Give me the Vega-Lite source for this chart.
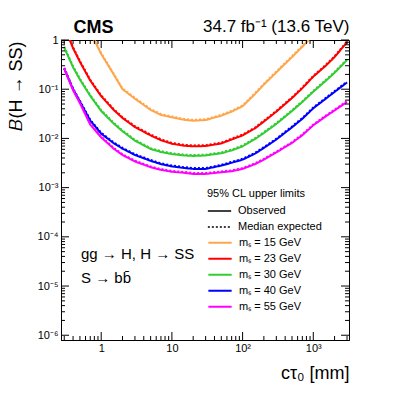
{
  "$schema": "https://vega.github.io/schema/vega-lite/v6.json",
  "width": 288,
  "height": 300,
  "autosize": {"type": "none"},
  "padding": {"left": 61, "top": 40, "right": 58, "bottom": 56},
  "config": {
    "font": "Liberation Sans",
    "view": {"stroke": "black", "strokeWidth": 1},
    "axis": {"grid": false, "domainColor": "black", "tickColor": "black", "tickWidth": 1, "labelColor": "black", "titleColor": "black", "titleFontWeight": "normal", "labelFont": "Liberation Sans", "titleFont": "Liberation Sans"},
    "legend": {"labelFont": "Liberation Sans", "titleFont": "Liberation Sans", "labelColor": "black", "titleColor": "black"}
  },
  "datasets": {
    "xt": [{"v":0.3},{"v":0.4},{"v":0.5},{"v":0.6},{"v":0.7},{"v":0.8},{"v":0.9},{"v":1},{"v":2},{"v":3},{"v":4},{"v":5},{"v":6},{"v":7},{"v":8},{"v":9},{"v":10},{"v":20},{"v":30},{"v":40},{"v":50},{"v":60},{"v":70},{"v":80},{"v":90},{"v":100},{"v":200},{"v":300},{"v":400},{"v":500},{"v":600},{"v":700},{"v":800},{"v":900},{"v":1000},{"v":2000},{"v":3000}],
    "yt": [{"v":1e-6},{"v":2e-6},{"v":3e-6},{"v":4e-6},{"v":5e-6},{"v":6e-6},{"v":7e-6},{"v":8e-6},{"v":9e-6},{"v":1e-5},{"v":2e-5},{"v":3e-5},{"v":4e-5},{"v":5e-5},{"v":6e-5},{"v":7e-5},{"v":8e-5},{"v":9e-5},{"v":1e-4},{"v":2e-4},{"v":3e-4},{"v":4e-4},{"v":5e-4},{"v":6e-4},{"v":7e-4},{"v":8e-4},{"v":9e-4},{"v":0.001},{"v":0.002},{"v":0.003},{"v":0.004},{"v":0.005},{"v":0.006},{"v":0.007},{"v":0.008},{"v":0.009},{"v":0.01},{"v":0.02},{"v":0.03},{"v":0.04},{"v":0.05},{"v":0.06},{"v":0.07},{"v":0.08},{"v":0.09},{"v":0.1},{"v":0.2},{"v":0.3},{"v":0.4},{"v":0.5},{"v":0.6},{"v":0.7},{"v":0.8},{"v":0.9},{"v":1}],
    "curves": [
    {"m":"15","c":0.5,"o":3.5,"e":3.6},{"m":"15","c":0.7,"o":1.45,"e":1.5},{"m":"15","c":1,"o":0.52,"e":0.54},{"m":"15","c":1.5,"o":0.2,"e":0.208},{"m":"15","c":2,"o":0.1,"e":0.104},{"m":"15","c":3,"o":0.064,"e":0.0666},{"m":"15","c":5,"o":0.038,"e":0.0395},{"m":"15","c":7,"o":0.030,"e":0.0312},{"m":"15","c":10,"o":0.0268,"e":0.0279},{"m":"15","c":15,"o":0.0238,"e":0.0248},{"m":"15","c":20,"o":0.0229,"e":0.0238},{"m":"15","c":30,"o":0.0236,"e":0.0245},{"m":"15","c":50,"o":0.029,"e":0.0302},{"m":"15","c":70,"o":0.035,"e":0.0364},{"m":"15","c":100,"o":0.045,"e":0.0468},{"m":"15","c":150,"o":0.08,"e":0.0832},{"m":"15","c":200,"o":0.124,"e":0.129},{"m":"15","c":300,"o":0.22,"e":0.229},{"m":"15","c":500,"o":0.45,"e":0.468},{"m":"15","c":700,"o":0.73,"e":0.76},{"m":"15","c":1000,"o":1.25,"e":1.3},{"m":"15","c":1500,"o":2.3,"e":2.4},
    {"m":"23","c":0.3,"o":1.9,"e":1.98},{"m":"23","c":0.4,"o":0.68,"e":0.71},{"m":"23","c":0.5,"o":0.36,"e":0.375},{"m":"23","c":0.7,"o":0.15,"e":0.156},{"m":"23","c":1,"o":0.072,"e":0.075},{"m":"23","c":1.5,"o":0.038,"e":0.0395},{"m":"23","c":2,"o":0.026,"e":0.027},{"m":"23","c":3,"o":0.017,"e":0.0177},{"m":"23","c":5,"o":0.0115,"e":0.012},{"m":"23","c":7,"o":0.0092,"e":0.0096},{"m":"23","c":10,"o":0.0078,"e":0.0081},{"m":"23","c":15,"o":0.0071,"e":0.0074},{"m":"23","c":20,"o":0.0069,"e":0.0072},{"m":"23","c":30,"o":0.0070,"e":0.0073},{"m":"23","c":50,"o":0.0079,"e":0.0082},{"m":"23","c":70,"o":0.0095,"e":0.0099},{"m":"23","c":100,"o":0.0115,"e":0.012},{"m":"23","c":150,"o":0.016,"e":0.0166},{"m":"23","c":200,"o":0.022,"e":0.0229},{"m":"23","c":300,"o":0.035,"e":0.0364},{"m":"23","c":500,"o":0.066,"e":0.0686},{"m":"23","c":700,"o":0.105,"e":0.109},{"m":"23","c":1000,"o":0.18,"e":0.187},{"m":"23","c":1500,"o":0.30,"e":0.312},{"m":"23","c":2000,"o":0.45,"e":0.468},{"m":"23","c":3000,"o":0.9,"e":0.936},
    {"m":"30","c":0.3,"o":0.70,"e":0.728},{"m":"30","c":0.4,"o":0.28,"e":0.291},{"m":"30","c":0.5,"o":0.157,"e":0.163},{"m":"30","c":0.7,"o":0.073,"e":0.076},{"m":"30","c":1,"o":0.036,"e":0.0374},{"m":"30","c":1.5,"o":0.020,"e":0.0208},{"m":"30","c":2,"o":0.014,"e":0.01456},{"m":"30","c":3,"o":0.009,"e":0.00936},{"m":"30","c":5,"o":0.0061,"e":0.00634},{"m":"30","c":7,"o":0.0053,"e":0.00551},{"m":"30","c":10,"o":0.0048,"e":0.00499},{"m":"30","c":15,"o":0.0045,"e":0.00468},{"m":"30","c":20,"o":0.0044,"e":0.00458},{"m":"30","c":30,"o":0.0045,"e":0.00468},{"m":"30","c":50,"o":0.0050,"e":0.0052},{"m":"30","c":70,"o":0.0057,"e":0.00593},{"m":"30","c":100,"o":0.0069,"e":0.00718},{"m":"30","c":150,"o":0.0097,"e":0.0101},{"m":"30","c":200,"o":0.0129,"e":0.0134},{"m":"30","c":300,"o":0.0197,"e":0.0205},{"m":"30","c":500,"o":0.036,"e":0.0374},{"m":"30","c":700,"o":0.055,"e":0.0572},{"m":"30","c":1000,"o":0.089,"e":0.0926},{"m":"30","c":1500,"o":0.148,"e":0.154},{"m":"30","c":2000,"o":0.215,"e":0.224},{"m":"30","c":3000,"o":0.39,"e":0.406},
    {"m":"40","c":0.3,"o":0.26,"e":0.27},{"m":"40","c":0.4,"o":0.10,"e":0.104},{"m":"40","c":0.5,"o":0.056,"e":0.0582},{"m":"40","c":0.7,"o":0.023,"e":0.0239},{"m":"40","c":1,"o":0.0125,"e":0.013},{"m":"40","c":1.5,"o":0.0080,"e":0.00832},{"m":"40","c":2,"o":0.0062,"e":0.00645},{"m":"40","c":3,"o":0.0046,"e":0.00478},{"m":"40","c":5,"o":0.0035,"e":0.00364},{"m":"40","c":7,"o":0.0030,"e":0.00312},{"m":"40","c":10,"o":0.0027,"e":0.00281},{"m":"40","c":15,"o":0.0025,"e":0.0026},{"m":"40","c":20,"o":0.0024,"e":0.0025},{"m":"40","c":30,"o":0.0024,"e":0.0025},{"m":"40","c":50,"o":0.0028,"e":0.00291},{"m":"40","c":70,"o":0.0032,"e":0.00333},{"m":"40","c":100,"o":0.0037,"e":0.00385},{"m":"40","c":150,"o":0.0049,"e":0.0051},{"m":"40","c":200,"o":0.0064,"e":0.00666},{"m":"40","c":300,"o":0.0095,"e":0.00988},{"m":"40","c":500,"o":0.0168,"e":0.0175},{"m":"40","c":700,"o":0.025,"e":0.026},{"m":"40","c":1000,"o":0.041,"e":0.0426},{"m":"40","c":1500,"o":0.064,"e":0.0666},{"m":"40","c":2000,"o":0.088,"e":0.0915},{"m":"40","c":3000,"o":0.137,"e":0.1425},
    {"m":"55","c":0.3,"o":0.26,"e":0.27},{"m":"55","c":0.4,"o":0.095,"e":0.099},{"m":"55","c":0.5,"o":0.052,"e":0.054},{"m":"55","c":0.7,"o":0.019,"e":0.0198},{"m":"55","c":1,"o":0.0105,"e":0.0109},{"m":"55","c":1.5,"o":0.0062,"e":0.00645},{"m":"55","c":2,"o":0.0046,"e":0.00478},{"m":"55","c":3,"o":0.0034,"e":0.00354},{"m":"55","c":5,"o":0.0026,"e":0.0027},{"m":"55","c":7,"o":0.0023,"e":0.00239},{"m":"55","c":10,"o":0.0021,"e":0.00218},{"m":"55","c":15,"o":0.0020,"e":0.00208},{"m":"55","c":20,"o":0.0019,"e":0.00198},{"m":"55","c":30,"o":0.0019,"e":0.00198},{"m":"55","c":50,"o":0.00205,"e":0.00213},{"m":"55","c":70,"o":0.00215,"e":0.00224},{"m":"55","c":100,"o":0.0024,"e":0.0025},{"m":"55","c":150,"o":0.0030,"e":0.00312},{"m":"55","c":200,"o":0.0037,"e":0.00385},{"m":"55","c":300,"o":0.0052,"e":0.0054},{"m":"55","c":500,"o":0.0081,"e":0.0084},{"m":"55","c":700,"o":0.0116,"e":0.0121},{"m":"55","c":1000,"o":0.0185,"e":0.0192},{"m":"55","c":1500,"o":0.028,"e":0.0291},{"m":"55","c":2000,"o":0.037,"e":0.0385},{"m":"55","c":3000,"o":0.055,"e":0.0572}
  ]},
  "data": {"name": "curves"},
  "resolve": {"axis": {"x": "independent", "y": "independent"}},
  "layer": [
    {
      "transform": [{"fold": ["o", "e"], "as": ["k", "B"]}],
      "mark": {"type": "line", "strokeWidth": 2, "clip": true},
      "encoding": {
        "x": {"field": "c", "type": "quantitative",
          "scale": {"type": "log", "domain": [0.27, 3200], "nice": false},
          "axis": {"orient": "bottom", "values": [1, 10, 100, 1000], "ticks": false, "labelPadding": 2, "labelFontSize": 11, "labelFlush": false,
            "labelExpr": "datum.value == 1 ? '1' : datum.value == 10 ? '10' : datum.value == 100 ? '10²' : '10³'",
            "title": "cτ₀ [mm]", "titleFontSize": 18, "titleX": 288, "titleY": 38, "titleAlign": "right", "titleBaseline": "alphabetic"}},
        "y": {"field": "B", "type": "quantitative",
          "scale": {"type": "log", "domain": [8e-7, 1], "nice": false},
          "axis": {"orient": "left", "values": [1e-6, 1e-5, 1e-4, 0.001, 0.01, 0.1, 1], "ticks": false, "labelPadding": 3, "labelFontSize": 11, "labelFlush": false,
            "labelExpr": "datum.value > 0.5 ? '1' : '10' + ['', '⁻¹', '⁻²', '⁻³', '⁻⁴', '⁻⁵', '⁻⁶'][round(-log(datum.value) / LN10)]",
            "title": "𝐵(H → SS)", "titleFontSize": 18, "titleX": -39.5, "titleY": 1, "titleAlign": "right", "titleAngle": 270, "titleBaseline": "alphabetic"}},
        "color": {"field": "m", "type": "nominal",
          "scale": {"domain": ["15", "23", "30", "40", "55"], "range": ["#ffa64d", "#ff0000", "#33cc33", "#0000ff", "#ff00ff"]},
          "legend": {"title": null, "orient": "none", "legendX": 146, "legendY": 194.7, "symbolType": "stroke", "symbolSize": 543, "symbolStrokeWidth": 2, "clipHeight": 16, "rowPadding": 0, "labelOffset": 6, "labelFontSize": 11, "padding": 0,
            "labelExpr": "'mₛ = ' + datum.label + ' GeV'"}},
        "strokeDash": {"field": "k", "type": "nominal",
          "scale": {"domain": ["o", "e"], "range": [[1, 0], [2, 2]]},
          "legend": {"title": "95% CL upper limits", "orient": "none", "legendX": 146, "legendY": 148, "symbolType": "stroke", "symbolSize": 543, "symbolStrokeWidth": 1.5, "symbolStrokeColor": "black", "clipHeight": 16, "rowPadding": 0, "labelOffset": 6, "labelFontSize": 11, "titleFontSize": 11, "titleFontWeight": "normal", "titlePadding": 4, "padding": 0,
            "labelExpr": "datum.label == 'o' ? 'Observed' : 'Median expected'"}}
      }
    },
    {
      "data": {"name": "xt"},
      "transform": [{"filter": "abs(log(datum.v)/LN10 - round(log(datum.v)/LN10)) < 0.01"}],
      "mark": {"type": "tick", "orient": "vertical", "size": 8, "thickness": 1, "color": "black", "opacity": 1, "yOffset": -4},
      "encoding": {"x": {"field": "v", "type": "quantitative", "axis": null}, "y": {"datum": 8e-7, "type": "quantitative", "axis": null}}
    },
    {
      "data": {"name": "xt"},
      "transform": [{"filter": "abs(log(datum.v)/LN10 - round(log(datum.v)/LN10)) >= 0.01"}],
      "mark": {"type": "tick", "orient": "vertical", "size": 4, "thickness": 1, "color": "black", "opacity": 1, "yOffset": -2},
      "encoding": {"x": {"field": "v", "type": "quantitative", "axis": null}, "y": {"datum": 8e-7, "type": "quantitative", "axis": null}}
    },
    {
      "data": {"name": "xt"},
      "transform": [{"filter": "abs(log(datum.v)/LN10 - round(log(datum.v)/LN10)) < 0.01"}],
      "mark": {"type": "tick", "orient": "vertical", "size": 8, "thickness": 1, "color": "black", "opacity": 1, "yOffset": 4},
      "encoding": {"x": {"field": "v", "type": "quantitative", "axis": null}, "y": {"datum": 1, "type": "quantitative", "axis": null}}
    },
    {
      "data": {"name": "xt"},
      "transform": [{"filter": "abs(log(datum.v)/LN10 - round(log(datum.v)/LN10)) >= 0.01"}],
      "mark": {"type": "tick", "orient": "vertical", "size": 4, "thickness": 1, "color": "black", "opacity": 1, "yOffset": 2},
      "encoding": {"x": {"field": "v", "type": "quantitative", "axis": null}, "y": {"datum": 1, "type": "quantitative", "axis": null}}
    },
    {
      "data": {"name": "yt"},
      "transform": [{"filter": "abs(log(datum.v)/LN10 - round(log(datum.v)/LN10)) < 0.01"}],
      "mark": {"type": "tick", "orient": "horizontal", "size": 8, "thickness": 1, "color": "black", "opacity": 1, "xOffset": 4},
      "encoding": {"y": {"field": "v", "type": "quantitative", "axis": null}, "x": {"datum": 0.27, "type": "quantitative", "axis": null}}
    },
    {
      "data": {"name": "yt"},
      "transform": [{"filter": "abs(log(datum.v)/LN10 - round(log(datum.v)/LN10)) >= 0.01"}],
      "mark": {"type": "tick", "orient": "horizontal", "size": 4, "thickness": 1, "color": "black", "opacity": 1, "xOffset": 2},
      "encoding": {"y": {"field": "v", "type": "quantitative", "axis": null}, "x": {"datum": 0.27, "type": "quantitative", "axis": null}}
    },
    {
      "data": {"name": "yt"},
      "transform": [{"filter": "abs(log(datum.v)/LN10 - round(log(datum.v)/LN10)) < 0.01"}],
      "mark": {"type": "tick", "orient": "horizontal", "size": 8, "thickness": 1, "color": "black", "opacity": 1, "xOffset": -4},
      "encoding": {"y": {"field": "v", "type": "quantitative", "axis": null}, "x": {"datum": 3200, "type": "quantitative", "axis": null}}
    },
    {
      "data": {"name": "yt"},
      "transform": [{"filter": "abs(log(datum.v)/LN10 - round(log(datum.v)/LN10)) >= 0.01"}],
      "mark": {"type": "tick", "orient": "horizontal", "size": 4, "thickness": 1, "color": "black", "opacity": 1, "xOffset": -2},
      "encoding": {"y": {"field": "v", "type": "quantitative", "axis": null}, "x": {"datum": 3200, "type": "quantitative", "axis": null}}
    },
    {
      "mark": {"type": "point", "opacity": 0},
      "encoding": {
        "x": {"field": "c", "type": "quantitative",
          "axis": {"orient": "top", "labels": false, "ticks": false, "domain": false,
            "title": "CMS", "titleFontSize": 18, "titleFontWeight": "bold", "titleX": 12, "titleY": -7.3, "titleAlign": "left", "titleBaseline": "alphabetic"}},
        "y": {"field": "o", "type": "quantitative", "axis": null}
      }
    },
    {
      "mark": {"type": "point", "opacity": 0},
      "encoding": {
        "x": {"field": "c", "type": "quantitative",
          "axis": {"orient": "top", "labels": false, "ticks": false, "domain": false,
            "title": "34.7 fb⁻¹ (13.6 TeV)", "titleFontSize": 17, "titleX": 288, "titleY": -8.3, "titleAlign": "right", "titleBaseline": "alphabetic"}},
        "y": {"field": "o", "type": "quantitative", "axis": null}
      }
    },
    {
      "data": {"values": [{}]},
      "mark": {"type": "text", "align": "left", "baseline": "middle", "fontSize": 15, "lineHeight": 23.5, "font": "Liberation Sans", "color": "black",
        "text": ["gg → H, H → SS", "S → bb̄"]},
      "encoding": {
        "x": {"datum": 0.518, "type": "quantitative", "axis": null},
        "y": {"datum": 4.4e-5, "type": "quantitative", "axis": null}
      }
    }
  ]
}
